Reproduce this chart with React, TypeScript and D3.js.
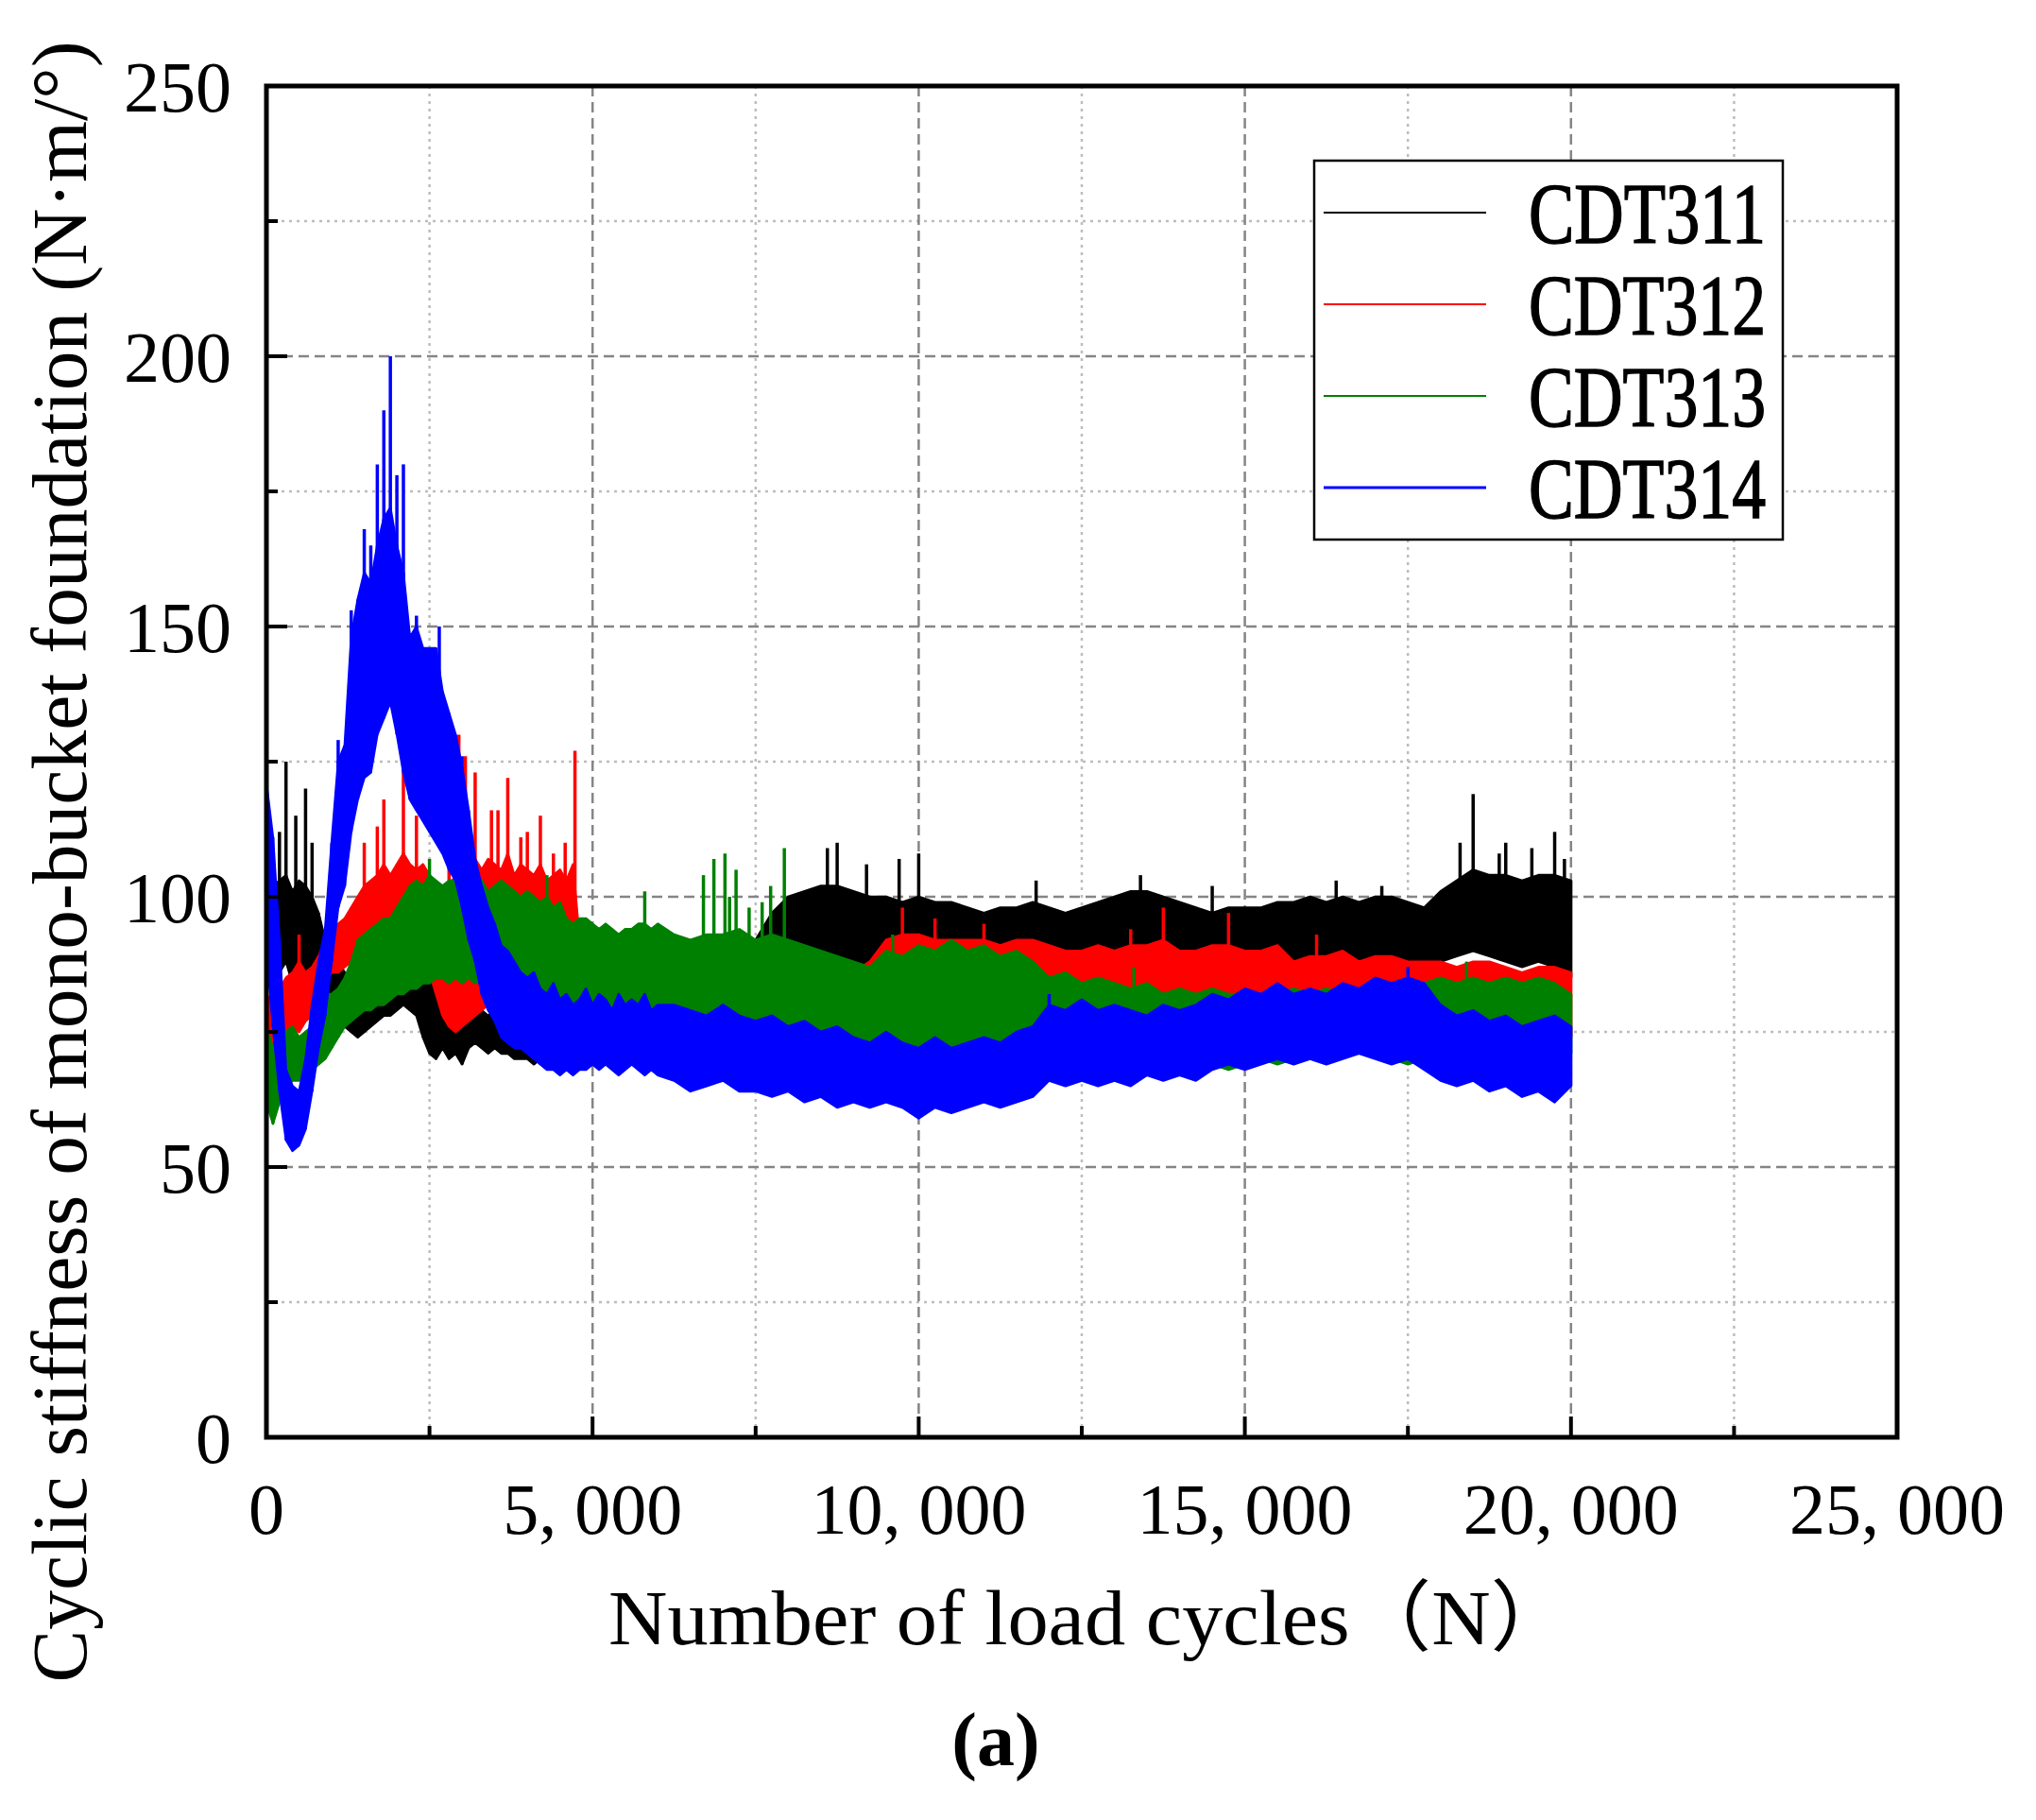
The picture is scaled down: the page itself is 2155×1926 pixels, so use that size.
import React from 'react';
import * as d3 from 'd3';

// sampling grid of the load cycles (denser at the start where the curves move fast)
const cycles: number[] = [...d3.range(0, 6001, 100), ...d3.range(6250, 20001, 250)];

// upper / lower edge of the dense part of each noisy record
const cdt311High = [
  100, 102, 103, 104, 101, 103, 102, 100, 97, 92, 90, 88, 86, 84, 84, 85, 86, 87, 88, 88,
  89, 88, 89, 88, 87, 86, 90, 86, 85, 86, 84, 82, 80, 79, 78, 79, 77, 78, 76, 77,
  76, 75, 76, 76, 75, 75, 76, 75, 76, 75, 76, 76, 75, 76, 76, 75, 76, 76, 77, 76, 77,
  80, 81, 82, 83, 86, 92, 97, 100, 101, 102, 102, 101, 100, 100, 99, 100, 99, 99, 98, 97,
  98, 98, 99, 98, 97, 98, 99, 100, 101, 101, 100, 99, 98, 97, 98, 98, 98, 99, 99, 100,
  99, 100, 99, 100, 100, 99, 98, 101, 103, 105, 104, 104, 103, 104, 104, 103,
];
const cdt311Low = [
  86, 88, 86, 88, 84, 86, 85, 87, 84, 80, 78, 77, 76, 75, 74, 75, 76, 77, 78, 78,
  79, 80, 79, 78, 74, 71, 70, 72, 70, 71, 69, 72, 73, 72, 71, 72, 71, 71, 70, 70,
  70, 69, 70, 70, 69, 70, 70, 69, 70, 70, 71, 70, 71, 70, 71, 71, 70, 71, 72, 71, 72,
  74, 75, 76, 77, 79, 82, 84, 86, 86, 85, 84, 85, 86, 87, 88, 87, 88, 89, 88, 89,
  88, 87, 88, 86, 87, 88, 87, 88, 89, 88, 87, 86, 85, 86, 85, 85, 86, 85, 84, 86,
  85, 84, 85, 86, 85, 84, 85, 88, 89, 90, 89, 88, 87, 88, 87, 85,
];
const cdt312High = [
  82, 80, 83, 85, 86, 88, 86, 87, 89, 92, 94, 95, 96, 98, 100, 102, 103, 104, 106, 104,
  106, 108, 106, 105, 106, 104, 102, 100, 102, 104, 106, 104, 107, 105, 107, 106, 105, 108, 104, 106,
  105, 104, 106, 103, 104, 105, 103, 106, 92, 89, 88, 86, 87, 86, 85, 86, 85, 86, 85, 84, 85,
  85, 84, 85, 84, 83, 84, 83, 84, 83, 84, 85, 86, 88, 92, 93, 93, 92, 92, 92, 92,
  91, 92, 92, 91, 90, 90, 91, 90, 91, 91, 92, 90, 90, 91, 91, 90, 90, 91, 88, 89,
  89, 90, 88, 89, 89, 88, 88, 88, 87, 88, 88, 87, 86, 87, 87, 86,
];
const cdt312Low = [
  60, 68, 72, 75, 76, 75, 77, 78, 80, 84, 86, 86, 87, 88, 89, 90, 91, 92, 92, 92,
  93, 92, 91, 90, 88, 86, 82, 78, 76, 75, 76, 77, 78, 79, 80, 80, 80, 79, 80, 79,
  78, 78, 77, 76, 76, 75, 76, 75, 75, 74, 75, 74, 75, 74, 75, 74, 74, 73, 74, 73, 74,
  73, 72, 73, 72, 71, 72, 71, 72, 72, 73, 73, 74, 76, 80, 82, 81, 80, 80, 79, 80,
  79, 78, 79, 77, 77, 78, 77, 77, 78, 77, 78, 77, 76, 77, 78, 77, 76, 77, 76, 77,
  76, 77, 76, 77, 76, 77, 77, 76, 77, 76, 77, 76, 76, 75, 76, 74,
];
const cdt313High = [
  76, 72, 74, 75, 76, 74, 75, 76, 80, 82, 82, 83, 85, 88, 92, 93, 94, 95, 96, 96,
  98, 100, 102, 103, 102, 104, 103, 102, 103, 103, 104, 103, 102, 103, 101, 102, 103, 102, 101, 100,
  101, 100, 99, 100, 98, 99, 96, 95, 96, 96, 95, 94, 95, 94, 93, 94, 94, 95, 95, 94, 95,
  93, 92, 93, 93, 94, 92, 93, 92, 91, 90, 89, 88, 87, 90, 89, 91, 90, 92, 90, 91,
  89, 90, 88, 85, 86, 84, 85, 84, 83, 84, 82, 83, 82, 83, 82, 82, 81, 82, 83, 82,
  83, 82, 81, 82, 83, 82, 84, 85, 84, 85, 84, 85, 84, 85, 84, 82,
];
const cdt313Low = [
  62, 58, 62, 65, 66, 66, 67, 68, 69, 70, 72, 74, 76, 77, 78, 79, 79, 80, 80, 81,
  82, 82, 83, 83, 84, 84, 85, 85, 84, 85, 84, 85, 84, 85, 84, 84, 83, 82, 82, 81,
  81, 80, 80, 79, 79, 79, 78, 78, 78, 77, 77, 77, 77, 76, 77, 76, 76, 76, 75, 76, 76,
  75, 74, 75, 74, 75, 74, 73, 74, 73, 72, 72, 71, 72, 71, 70, 71, 70, 71, 70, 71,
  72, 71, 70, 67, 68, 67, 68, 67, 66, 67, 68, 67, 68, 69, 68, 69, 70, 69, 70, 71,
  70, 71, 72, 71, 70, 69, 70, 69, 68, 69, 70, 69, 70, 69, 70, 71,
];
const cdt314High = [
  121, 111, 92, 68, 65, 64, 70, 80, 88, 94, 110, 125, 128, 148, 155, 160, 158, 165, 170, 172,
  165, 160, 148, 150, 146, 146, 146, 138, 134, 130, 124, 116, 107, 102, 98, 95, 91, 90, 88, 86,
  85, 86, 83, 82, 84, 81, 82, 80, 81, 83, 80, 82, 81, 79, 82, 80, 81, 80, 82, 79, 80,
  80, 79, 78, 80, 78, 77, 78, 76, 77, 75, 76, 74, 73, 75, 73, 72, 74, 72, 73, 74,
  73, 75, 76, 80, 79, 81, 79, 80, 79, 78, 80, 79, 80, 82, 81, 83, 82, 84, 82, 83,
  82, 84, 83, 85, 84, 85, 84, 80, 78, 79, 77, 78, 76, 77, 78, 76,
];
const cdt314Low = [
  90, 76, 64, 55, 53, 54, 57, 64, 72, 78, 88, 98, 102, 112, 118, 122, 123, 130, 133, 136,
  130, 123, 118, 116, 114, 112, 110, 108, 105, 103, 98, 92, 88, 82, 79, 77, 74, 73, 72, 72,
  71, 70, 69, 68, 68, 67, 68, 67, 68, 68, 69, 68, 69, 68, 67, 68, 69, 68, 67, 68, 67,
  66, 64, 65, 66, 64, 64, 63, 64, 62, 63, 61, 62, 61, 62, 61, 59, 61, 60, 61, 62,
  61, 62, 63, 66, 65, 66, 65, 66, 65, 67, 66, 67, 66, 68, 69, 68, 69, 70, 69, 70,
  69, 70, 71, 70, 69, 70, 68, 66, 65, 66, 64, 65, 63, 64, 62, 65,
];

// isolated peaks sticking out of the dense part: [cycle, stiffness]
const cdt311Peaks = [
  [200, 112], [300, 125], [450, 115], [600, 120], [700, 110], [2600, 92], [8600, 109], [8750, 110],
  [9200, 106], [9700, 107], [10000, 108], [11800, 103], [13400, 104], [14500, 102], [16400, 103],
  [17100, 102], [18300, 110], [18500, 119], [18900, 108], [19000, 110], [19400, 109], [19750, 112], [19900, 107],
];
const cdt312Peaks = [
  [500, 93], [1500, 110], [1700, 113], [1800, 118], [2100, 127], [2300, 115], [2800, 112], [2950, 130],
  [3050, 126], [3200, 123], [3450, 116], [3550, 116], [3700, 122], [3900, 111], [4000, 112], [4200, 115],
  [4400, 108], [4580, 110], [4730, 127], [9750, 98], [10250, 96], [11000, 95], [13250, 94], [13750, 98],
  [14750, 97], [16100, 93],
];
const cdt313Peaks = [
  [2500, 107], [3000, 108], [4300, 104], [5800, 101], [6700, 104], [6860, 107], [7030, 108], [7100, 100],
  [7200, 105], [7400, 98], [7600, 99], [7730, 102], [7940, 109], [9600, 93], [13300, 87], [18400, 88],
];
const cdt314Peaks = [
  [1100, 129], [1300, 153], [1500, 168], [1600, 165], [1700, 180], [1800, 190], [1900, 200], [2000, 178],
  [2100, 180], [2300, 152], [2650, 150], [3000, 126], [12000, 82], [17500, 87],
];

const seriesNames = ['CDT311', 'CDT312', 'CDT313', 'CDT314'];
const seriesColors = ['#000000', '#ff0000', '#008000', '#0000ff'];
const highs = [cdt311High, cdt312High, cdt313High, cdt314High];
const lows = [cdt311Low, cdt312Low, cdt313Low, cdt314Low];
const peaks = [cdt311Peaks, cdt312Peaks, cdt313Peaks, cdt314Peaks];

const yMajorTicks = [0, 50, 100, 150, 200, 250];
const yMinorTicks = [25, 75, 125, 175, 225];
const xMajorTicks = [0, 5000, 10000, 15000, 20000, 25000];
const xMinorTicks = [2500, 7500, 12500, 17500, 22500];

const W = 2155;
const H = 1926;
const plot = { left: 282, right: 2008, top: 91, bottom: 1521 };
const serif = "'Liberation Serif', 'Times New Roman', 'Noto Sans CJK SC', serif";

const fmtX = (v: number) => d3.format(',')(v).replace(',', ', ');

export default function App() {
  const x = d3.scaleLinear().domain([0, 25000]).range([plot.left, plot.right]);
  const y = d3.scaleLinear().domain([0, 250]).range([plot.bottom, plot.top]);

  const band = (hi: number[], lo: number[]) =>
    d3
      .area<number>()
      .x((c) => x(c))
      .y0((_, i) => y(lo[i]))
      .y1((_, i) => y(hi[i]))(cycles) || '';

  const nearest = (c: number) => Math.min(cycles.length - 1, d3.bisectLeft(cycles, c));

  const legendX = 1391;
  const legendY = 170;
  const legendRow = 97;

  return (
    <svg width={W} height={H} style={{ position: 'absolute', left: 0, top: 0, background: '#fff' }}>
      <rect x={0} y={0} width={W} height={H} fill="#fff" />

      {/* grid */}
      <g>
        {yMinorTicks.map((t) => (
          <line key={'ym' + t} x1={plot.left} x2={plot.right} y1={y(t)} y2={y(t)}
            stroke="#bdbdbd" strokeWidth={2.5} strokeDasharray="3 5" />
        ))}
        {xMinorTicks.map((t) => (
          <line key={'xm' + t} x1={x(t)} x2={x(t)} y1={plot.top} y2={plot.bottom}
            stroke="#bdbdbd" strokeWidth={2.5} strokeDasharray="3 5" />
        ))}
        {yMajorTicks.filter((t) => t > 0 && t < 250).map((t) => (
          <line key={'yM' + t} x1={plot.left} x2={plot.right} y1={y(t)} y2={y(t)}
            stroke="#858585" strokeWidth={2.5} strokeDasharray="11 6" />
        ))}
        {xMajorTicks.filter((t) => t > 0 && t < 25000).map((t) => (
          <line key={'xM' + t} x1={x(t)} x2={x(t)} y1={plot.top} y2={plot.bottom}
            stroke="#858585" strokeWidth={2.5} strokeDasharray="11 6" />
        ))}
      </g>

      {/* data: dense band plus isolated peaks */}
      <g>
        {seriesNames.map((name, k) => {
          const hi = highs[k];
          const lo = lows[k];
          return (
            <g key={name}>
              <path d={band(hi, lo)} fill={seriesColors[k]}
                stroke={seriesColors[k]} strokeWidth={2.5} strokeLinejoin="round" />
              {cycles.map((c, i) => (
                <line key={'s' + i} x1={x(c)} x2={x(c)} y1={y(lo[i])} y2={y(hi[i])}
                  stroke={seriesColors[k]} strokeWidth={3} />
              ))}
              {peaks[k].map(([c, v], i) => {
                const j = nearest(c);
                return (
                  <line key={'p' + i} x1={x(c)} x2={x(c)} y1={y(v)} y2={y((hi[j] + lo[j]) / 2)}
                    stroke={seriesColors[k]} strokeWidth={3.5} />
                );
              })}
            </g>
          );
        })}
      </g>

      {/* inward ticks */}
      <g stroke="#000" strokeWidth={4}>
        {yMajorTicks.map((t) => (
          <line key={'ty' + t} x1={plot.left} x2={plot.left + 22} y1={y(t)} y2={y(t)} />
        ))}
        {yMinorTicks.map((t) => (
          <line key={'tym' + t} x1={plot.left} x2={plot.left + 12} y1={y(t)} y2={y(t)} />
        ))}
        {xMajorTicks.map((t) => (
          <line key={'tx' + t} x1={x(t)} x2={x(t)} y1={plot.bottom} y2={plot.bottom - 22} />
        ))}
        {xMinorTicks.map((t) => (
          <line key={'txm' + t} x1={x(t)} x2={x(t)} y1={plot.bottom} y2={plot.bottom - 12} />
        ))}
      </g>

      {/* frame */}
      <rect x={plot.left} y={plot.top} width={plot.right - plot.left} height={plot.bottom - plot.top}
        fill="none" stroke="#000" strokeWidth={5} />

      {/* tick labels */}
      <g fontFamily={serif} fontSize={76} fill="#000">
        {yMajorTicks.map((t) => (
          <text key={'ly' + t} x={245} y={y(t)} dy="0.35em" textAnchor="end">{t}</text>
        ))}
        {xMajorTicks.map((t) => (
          <text key={'lx' + t} x={x(t)} y={1623} textAnchor="middle">{fmtX(t)}</text>
        ))}
      </g>

      {/* axis titles */}
      <text x={644} y={1740} fontFamily={serif} fontSize={82}
        textLength={1020} lengthAdjust="spacingAndGlyphs">
        Number of load cycles（N）
      </text>
      <text transform={`translate(91, 912) rotate(-90)`} textAnchor="middle" fontFamily={serif} fontSize={82}
        textLength={1737} lengthAdjust="spacingAndGlyphs">
        Cyclic stiffness of mono-bucket foundation (N·m/°)
      </text>
      <text x={1054} y={1868} textAnchor="middle" fontFamily={serif} fontSize={80} fontWeight="bold">
        (a)
      </text>

      {/* legend */}
      <g>
        <rect x={legendX} y={legendY} width={496} height={401} fill="#fff" stroke="#000" strokeWidth={2.5} />
        {seriesNames.map((name, k) => (
          <g key={'lg' + name}>
            <line x1={1401} x2={1573} y1={225 + k * legendRow} y2={225 + k * legendRow}
              stroke={seriesColors[k]} strokeWidth={k === 3 ? 3 : 2} />
            <text x={1618} y={257 + k * legendRow} fontFamily={serif} fontSize={90}
              stroke="#000" strokeWidth={1.5}
              textLength={251} lengthAdjust="spacingAndGlyphs">{name}</text>
          </g>
        ))}
      </g>
    </svg>
  );
}
